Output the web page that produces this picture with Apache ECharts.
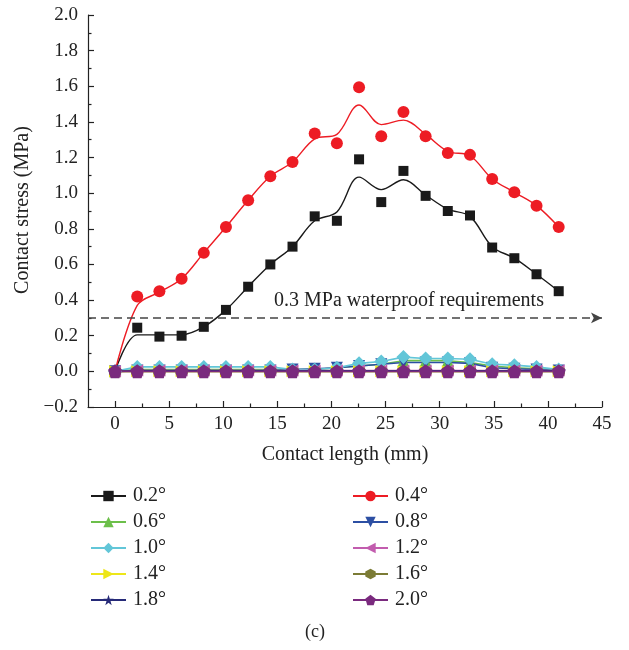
<!DOCTYPE html>
<html><head><meta charset="utf-8">
<script src="https://cdn.jsdelivr.net/npm/echarts@6/dist/echarts.min.js"></script>
<style>html,body{margin:0;padding:0;background:#fff}#c{width:629px;height:650px}</style>
</head><body><div id="c"></div>
<script>
// Contact length (mm) of the measurement points
const contactLength = [0, 2.05, 4.1, 6.15, 8.2, 10.25, 12.3, 14.35, 16.4, 18.45, 20.5, 22.55, 24.6, 26.65, 28.7, 30.75, 32.8, 34.85, 36.9, 38.95, 41];
// measured points
const s02 = [0, 0.245, 0.195, 0.20, 0.25, 0.345, 0.475, 0.60, 0.70, 0.87, 0.845, 1.19, 0.95, 1.125, 0.985, 0.90, 0.875, 0.695, 0.635, 0.545, 0.45];
const s04 = [0, 0.42, 0.45, 0.52, 0.665, 0.81, 0.96, 1.095, 1.175, 1.335, 1.28, 1.595, 1.32, 1.455, 1.32, 1.225, 1.215, 1.08, 1.005, 0.93, 0.81];
// fitted curves
const fit02 = [0, 0.205, 0.205, 0.205, 0.25, 0.345, 0.475, 0.60, 0.70, 0.845, 0.895, 1.09, 1.02, 1.075, 0.99, 0.91, 0.87, 0.70, 0.635, 0.545, 0.45];
const fit04 = [0, 0.37, 0.445, 0.52, 0.665, 0.81, 0.96, 1.095, 1.175, 1.305, 1.33, 1.495, 1.385, 1.41, 1.33, 1.235, 1.21, 1.08, 1.005, 0.93, 0.81];
const s06 = [0, 0.01, 0.01, 0.01, 0.01, 0.01, 0.01, 0.01, 0.01, 0.01, 0.02, 0.03, 0.04, 0.06, 0.06, 0.06, 0.05, 0.03, 0.02, 0.015, 0.01];
const s08 = [0, 0.005, 0.005, 0.005, 0.005, 0.005, 0.005, 0.005, 0.01, 0.015, 0.02, 0.03, 0.04, 0.05, 0.05, 0.05, 0.045, 0.02, 0.015, 0.01, 0.005];
const s10 = [0, 0.025, 0.025, 0.025, 0.025, 0.025, 0.025, 0.025, 0.01, 0.01, 0.02, 0.045, 0.055, 0.08, 0.072, 0.072, 0.068, 0.04, 0.035, 0.025, 0.01];
const s12 = [0, 0.005, 0.005, 0.005, 0.005, 0.005, 0.005, 0.005, 0.005, 0.005, 0.005, 0.005, 0.005, 0.005, 0.005, 0.005, 0.005, 0.005, 0.005, 0.005, 0.005];
const s14 = [0, 0, 0, 0, 0, 0, 0, 0, 0, 0, 0, 0, 0, 0, 0, 0, 0, 0, 0, 0, 0];
const s16 = [0, 0, 0, 0, 0, 0, 0, 0, 0, 0, 0, 0, 0, 0, 0, 0, 0, 0, 0, 0, 0];
const s18 = [0, 0.003, 0.003, 0.003, 0.003, 0.003, 0.003, 0.003, 0.003, 0.003, 0.003, 0.003, 0.003, 0.003, 0.003, 0.003, 0.003, 0.003, 0.003, 0.003, 0.003];
const s20 = [0, 0, 0, 0, 0, 0, 0, 0, 0, 0, 0, 0, 0, 0, 0, 0, 0, 0, 0, 0, 0];

const seriesNames = ['0.2°', '0.4°', '0.6°', '0.8°', '1.0°', '1.2°', '1.4°', '1.6°', '1.8°', '2.0°'];
const xTicks = [0, 5, 10, 15, 20, 25, 30, 35, 40, 45];
const xMinorTicks = [2.5, 7.5, 12.5, 17.5, 22.5, 27.5, 32.5, 37.5, 42.5];
const thresholdValue = 0.3;
const thresholdLabel = '0.3 MPa waterproof requirements';

const FONT = 'Liberation Serif';
const PENTAGON = 'path://M50,0 L97.6,34.5 L79.4,90.5 L20.6,90.5 L2.4,34.5 Z';
const HEXAGON = 'path://M50,0 L93.3,25 L93.3,75 L50,100 L6.7,75 L6.7,25 Z';
const STAR = 'path://M50,0 L61.8,35.1 L98.9,35.1 L69.1,57 L80.3,92.7 L50,71 L19.7,92.7 L30.9,57 L1.1,35.1 L38.2,35.1 Z';

function pts(arr) { return arr.map((v, i) => [contactLength[i], v]); }

function lineSeries(name, arr, color, symbol, size, rotate) {
  return {
    name, type: 'line', data: pts(arr), symbol, symbolSize: size, symbolRotate: rotate || 0,
    showSymbol: true, smooth: false,
    lineStyle: { color, width: 1.6 }, itemStyle: { color, opacity: 1 },
    emphasis: { disabled: true }, animation: false
  };
}

const series = [
  {
    name: seriesNames[0], type: 'line', data: pts(fit02), smooth: 0.35, symbol: 'rect', symbolSize: 10,
    showSymbol: false, lineStyle: { color: '#1a1a1a', width: 1.4 }, itemStyle: { color: '#1a1a1a' },
    emphasis: { disabled: true }, animation: false,
    markLine: {
      silent: true, animation: false,
      symbol: ['none', 'arrow'], symbolSize: [8, 11],
      lineStyle: { color: '#444', type: [8, 5], width: 1.5 },
      label: { show: false },
      data: [[{ coord: [-2.5, thresholdValue] }, { coord: [45, thresholdValue] }]]
    }
  },
  {
    name: seriesNames[0], type: 'scatter', data: pts(s02), symbol: 'rect', symbolSize: 10,
    itemStyle: { color: '#1a1a1a', opacity: 1 }, emphasis: { disabled: true }, animation: false
  },
  {
    name: seriesNames[1], type: 'line', data: pts(fit04), smooth: 0.35, symbol: 'circle', symbolSize: 12,
    showSymbol: false, lineStyle: { color: '#ed1c24', width: 1.4 }, itemStyle: { color: '#ed1c24' },
    emphasis: { disabled: true }, animation: false
  },
  {
    name: seriesNames[1], type: 'scatter', data: pts(s04), symbol: 'circle', symbolSize: 12,
    itemStyle: { color: '#ed1c24', opacity: 1 }, emphasis: { disabled: true }, animation: false
  },
  lineSeries(seriesNames[2], s06, '#6cbf4a', 'triangle', 12),
  lineSeries(seriesNames[3], s08, '#2c4fa3', 'triangle', 12, 180),
  lineSeries(seriesNames[4], s10, '#62c6d8', 'diamond', 14),
  lineSeries(seriesNames[5], s12, '#c25cae', 'triangle', 12, 90),
  lineSeries(seriesNames[6], s14, '#ede619', 'triangle', 12, -90),
  lineSeries(seriesNames[7], s16, '#7b7b35', HEXAGON, 12),
  lineSeries(seriesNames[8], s18, '#262a78', STAR, 12),
  lineSeries(seriesNames[9], s20, '#7a2a7e', PENTAGON, 14)
];

const legendCommon = {
  orient: 'vertical', itemWidth: 35, itemHeight: 13, itemGap: 6,
  textStyle: { fontFamily: FONT, fontSize: 20, color: '#222', padding: [0, 0, 0, 2] },
  selectedMode: false, symbolRotate: 'inherit'
};

const option = {
  animation: false,
  textStyle: { fontFamily: FONT },
  grid: { left: 88, right: 27, top: 15, bottom: 243, containLabel: false },
  xAxis: [
    {
      type: 'value', min: -2.5, max: 45, position: 'bottom',
      name: 'Contact length (mm)', nameLocation: 'middle', nameGap: 38,
      nameTextStyle: { fontFamily: FONT, fontSize: 20, color: '#222' },
      axisLine: { show: true, onZero: false, lineStyle: { color: '#222', width: 1.2 } },
      axisTick: { show: true, inside: true, length: 6, customValues: xTicks, lineStyle: { color: '#222', width: 1.2 } },
      axisLabel: { customValues: xTicks, fontFamily: FONT, fontSize: 19, color: '#222', margin: 8 },
      splitLine: { show: false }
    },
    {
      type: 'value', min: -2.5, max: 45, position: 'bottom',
      axisLine: { show: false, onZero: false },
      axisTick: { show: true, inside: true, length: 3.5, customValues: xMinorTicks, lineStyle: { color: '#222', width: 1.2 } },
      axisLabel: { show: false, customValues: xMinorTicks },
      splitLine: { show: false }
    }
  ],
  yAxis: {
    type: 'value', min: -0.2, max: 2.0, interval: 0.2,
    axisLine: { show: true, onZero: false, lineStyle: { color: '#222', width: 1.2 } },
    axisTick: { show: true, inside: true, length: 6, lineStyle: { color: '#222', width: 1.2 } },
    minorTick: { show: true, splitNumber: 2, length: 3.5, lineStyle: { color: '#222', width: 1.2 } },
    axisLabel: {
      fontFamily: FONT, fontSize: 19, color: '#222', margin: 10,
      formatter: v => (v < 0 ? '\u2212' + Math.abs(v).toFixed(1) : v.toFixed(1))
    },
    splitLine: { show: false }
  },
  legend: [
    Object.assign({ left: 85, top: 481, data: [seriesNames[0], seriesNames[2], seriesNames[4], seriesNames[6], seriesNames[8]] }, legendCommon),
    Object.assign({ left: 347, top: 481, data: [seriesNames[1], seriesNames[3], seriesNames[5], seriesNames[7], seriesNames[9]] }, legendCommon)
  ],
  graphic: [
    { type: 'text', x: 23, y: 210, rotation: Math.PI / 2,
      style: { text: 'Contact stress (MPa)', fontFamily: FONT, fontSize: 20, fill: '#222', align: 'center', verticalAlign: 'middle' } },
    { type: 'text', x: 409, y: 301,
      style: { text: thresholdLabel, fontFamily: FONT, fontSize: 20, fill: '#222', align: 'center', verticalAlign: 'middle' } },
    { type: 'text', x: 315, y: 632,
      style: { text: '(c)', fontFamily: FONT, fontSize: 18, fill: '#222', align: 'center', verticalAlign: 'middle' } }
  ],
  series
};

const chart = echarts.init(document.getElementById('c'), null, { renderer: 'canvas' });
chart.setOption(option);
</script>
</body></html>
